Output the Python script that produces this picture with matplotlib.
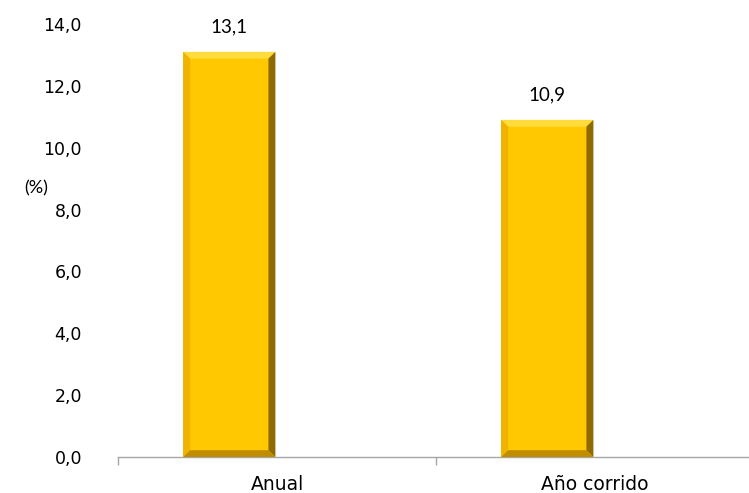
import matplotlib.pyplot as plt
from matplotlib.patches import Polygon

categories = ['Anual', 'Año corrido']
values = [13.1, 10.9]
yticks = [0, 2, 4, 6, 8, 10, 12, 14]

W, H = 749, 493
fig = plt.figure(figsize=(W / 100, H / 100), dpi=100)
left, right, top, bottom = 118, 754, 24, 457
ax = fig.add_axes([left / W, 1 - bottom / H, (right - left) / W, (bottom - top) / H])

plt.rcParams['font.family'] = ['Lato', 'DejaVu Sans']
fs = 12.5
fs_big = 13.5

xs = list(range(len(categories)))
bar_w = 0.29
offset = -0.15
bars = ax.bar([x + offset for x in xs], values, width=bar_w, color='#FFC800',
              edgecolor='none', zorder=2)

ax.set_xlim(-0.5, len(categories) - 0.5)
ax.set_ylim(0, 14)

# bevel edges, computed from each bar rectangle
bx = 0.022
by = 0.22
for b in bars:
    x0, y0 = b.get_x(), b.get_y()
    x1, y1 = x0 + b.get_width(), y0 + b.get_height()
    faces = [
        ([(x0, y1), (x1, y1), (x1 - bx, y1 - by), (x0 + bx, y1 - by)], '#FFDC3C'),
        ([(x0, y0), (x0, y1), (x0 + bx, y1 - by), (x0 + bx, y0 + by)], '#F0B400'),
        ([(x1, y0), (x1, y1), (x1 - bx, y1 - by), (x1 - bx, y0 + by)], '#8E6A00'),
        ([(x0, y0), (x1, y0), (x1 - bx, y0 + by), (x0 + bx, y0 + by)], '#C08C00'),
    ]
    for pts, c in faces:
        ax.add_patch(Polygon(pts, closed=True, facecolor=c, edgecolor='none', zorder=3))
    ax.annotate(f'{b.get_height():.1f}'.replace('.', ','),
                (b.get_x() + b.get_width() / 2, y1), xytext=(0, 12),
                textcoords='offset points', ha='center', va='bottom',
                fontsize=fs_big, color='#000000')

for s in ['top', 'right', 'left']:
    ax.spines[s].set_visible(False)
ax.spines['bottom'].set_color('#A6A6A6')
ax.spines['bottom'].set_linewidth(1.0)

ax.set_xticks(xs)
ax.set_xticklabels(categories, fontsize=fs_big)
ax.set_xticks([x - 0.5 for x in range(len(categories) + 1)], minor=True)
ax.tick_params(axis='x', which='major', length=0, pad=13)
ax.tick_params(axis='x', which='minor', length=6, color='#A6A6A6', width=1.0)

ax.set_yticks(yticks)
ax.set_yticklabels([f'{v:.1f}'.replace('.', ',') for v in yticks], fontsize=fs)
ax.tick_params(axis='y', length=0, pad=26)

fig.text(36 / W, 1 - 188 / H, '(%)', fontsize=13, ha='center', va='center')

fig.savefig('out.png', dpi=100)
